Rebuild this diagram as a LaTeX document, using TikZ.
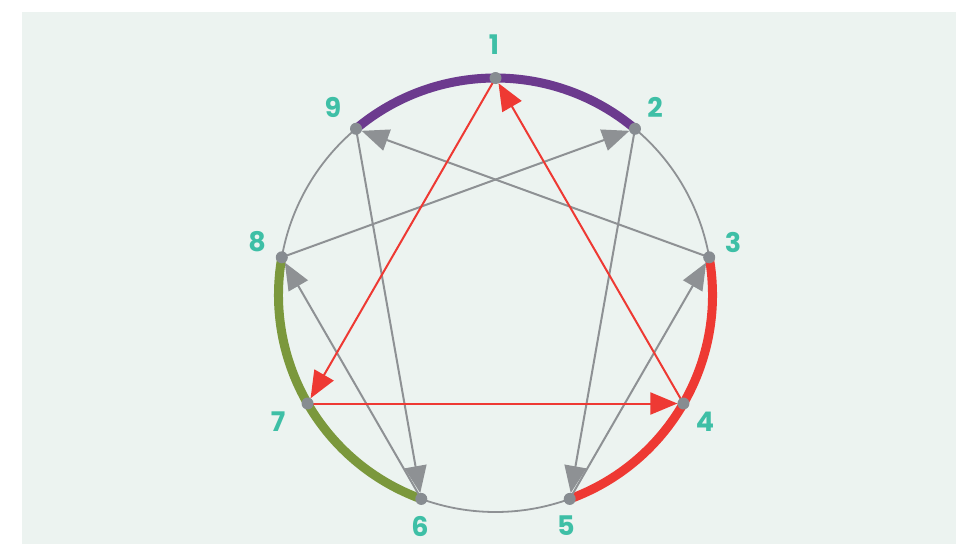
\documentclass[tikz,border=0pt]{standalone}
\usepackage{fontspec}
\setmainfont{Poppins}
\usetikzlibrary{arrows.meta}
\definecolor{bgpanel}{HTML}{ECF3F0}
\definecolor{lbl}{HTML}{3EBFA6}
\definecolor{ringgray}{HTML}{8E9194}
\definecolor{dotgray}{HTML}{878C91}
\definecolor{cpurple}{HTML}{6C3A8E}
\definecolor{cred}{HTML}{EE3933}
\definecolor{cgreen}{HTML}{7B983C}
\tikzset{
  dot/.style={circle,fill=dotgray,inner sep=0pt,minimum size=12pt},
  lab/.style={text=lbl,font=\fontsize{27}{27}\selectfont\bfseries,inner sep=0pt},
  thinring/.style={draw=ringgray,line width=1.8pt},
  thickarc/.style={line width=9pt},
  grayarrow/.style={draw=ringgray,line width=2pt,-{Triangle[length=27pt,width=22pt]},shorten >=6pt},
  redarrow/.style={draw=cred,line width=2pt,-{Triangle[length=27pt,width=22pt]},shorten >=6pt},
}
\begin{document}
\begin{tikzpicture}[x=1pt,y=1pt]
\useasboundingbox (0,0) rectangle (956,-544);
\fill[white] (0,0) rectangle (956,-544);
\fill[bgpanel] (22,-12) rectangle (956,-544);
\coordinate (c) at (495.5,-295);
\def\R{217}
% thin ring parts
\draw[thinring] (c) ++(50:\R) arc[start angle=50,end angle=10,radius=\R];
\draw[thinring] (c) ++(-70:\R) arc[start angle=-70,end angle=-110,radius=\R];
\draw[thinring] (c) ++(170:\R) arc[start angle=170,end angle=130,radius=\R];
% thick arcs
\draw[thickarc,cpurple] (c) ++(130:\R) arc[start angle=130,end angle=50,radius=\R];
\draw[thickarc,cred] (c) ++(10:\R) arc[start angle=10,end angle=-70,radius=\R];
\draw[thickarc,cgreen] (c) ++(170:\R) arc[start angle=170,end angle=250,radius=\R];
% points
\path (c) ++(90:\R) coordinate (p1);
\path (c) ++(50:\R) coordinate (p2);
\path (c) ++(10:\R) coordinate (p3);
\path (c) ++(-30:\R) coordinate (p4);
\path (c) ++(-70:\R) coordinate (p5);
\path (c) ++(-110:\R) coordinate (p6);
\path (c) ++(-150:\R) coordinate (p7);
\path (c) ++(170:\R) coordinate (p8);
\path (c) ++(130:\R) coordinate (p9);
% gray connectors
\draw[grayarrow] (p3) -- (p9);
\draw[grayarrow] (p8) -- (p2);
\draw[grayarrow] (p9) -- (p6);
\draw[grayarrow] (p2) -- (p5);
\draw[grayarrow] (p6) -- (p8);
\draw[grayarrow] (p5) -- (p3);
% red connectors
\draw[redarrow] (p1) -- (p7);
\draw[redarrow] (p7) -- (p4);
\draw[redarrow] (p4) -- (p1);
% dots
\foreach \i in {1,...,9} \node[dot] (d\i) at (p\i) {};
% labels
\node[lab] (l1) at (494,-45) {1};
\node[lab] (l2) at (655,-107) {2};
\node[lab] (l3) at (733,-242) {3};
\node[lab] (l4) at (705,-422) {4};
\node[lab] (l5) at (566,-526) {5};
\node[lab] (l6) at (420,-526) {6};
\node[lab] (l7) at (278,-422) {7};
\node[lab] (l8) at (257,-242) {8};
\node[lab] (l9) at (333,-107) {9};
\end{tikzpicture}
\end{document}
